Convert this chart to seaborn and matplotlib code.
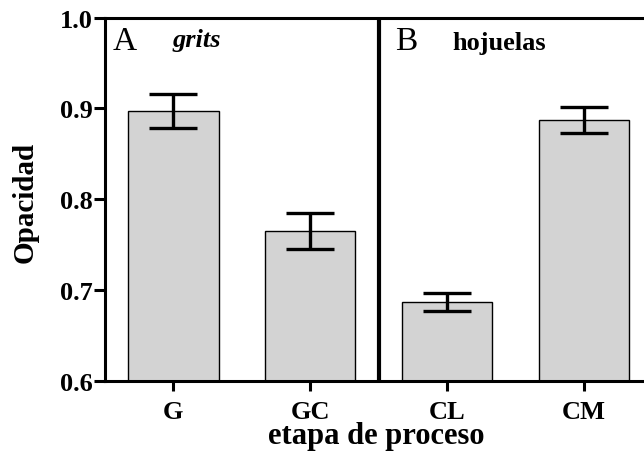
import matplotlib
matplotlib.use("Agg")
import matplotlib.pyplot as plt
import seaborn as sns
import pandas as pd

categories = ["G", "GC", "CL", "CM"]
means = [0.897, 0.765, 0.687, 0.887]
errors = [0.019, 0.020, 0.010, 0.0145]
yticks = [0.6, 0.7, 0.8, 0.9, 1.0]
ytick_labels = ["0.6", "0.7", "0.8", "0.9", "1.0"]

sns.set_style("white")
plt.rcParams["font.family"] = ["Liberation Serif", "DejaVu Serif"]
plt.rcParams.update({
    "text.color": "black",
    "axes.labelcolor": "black",
    "xtick.color": "black",
    "ytick.color": "black",
})

df = pd.DataFrame({"etapa": categories, "opacidad": means})

fig = plt.figure(figsize=(6.44, 4.52), dpi=100)
ax = fig.add_axes([0.163, 0.155, 0.837, 0.804])

sns.barplot(data=df, x="etapa", y="opacidad", order=categories,
            color="#d3d3d3", edgecolor="black", linewidth=1.0,
            width=0.66, errorbar=None, saturation=1, ax=ax)
ax.errorbar(range(len(categories)), means, yerr=errors, fmt="none",
            ecolor="black", elinewidth=2.4, capsize=17.5, capthick=2.4,
            zorder=3)

# divider between the two panels
ax.axvline(1.5, color="black", lw=3.0, zorder=4)

ax.set_ylim(0.6, 1.0)
ax.set_xlim(-0.5, 3.44)
ax.set_yticks(yticks)
ax.set_yticklabels(ytick_labels)

for side in ["left", "top", "bottom"]:
    ax.spines[side].set_visible(True)
    ax.spines[side].set_linewidth(2.2)
    ax.spines[side].set_color("black")
ax.spines["right"].set_visible(False)

ax.tick_params(axis="y", direction="out", length=8, width=2.2,
               color="black", labelcolor="black", labelsize=19, pad=1,
               left=True)
ax.tick_params(axis="x", direction="out", length=7, width=2.2,
               color="black", labelcolor="black", labelsize=19, pad=7,
               bottom=True)
for lbl in ax.get_xticklabels() + ax.get_yticklabels():
    lbl.set_fontweight("bold")

ax.set_xlabel("etapa de proceso", fontsize=22, fontweight="bold",
              color="black")
ax.xaxis.label.set_va("baseline")
ax.xaxis.set_label_coords(0.503, -0.171)
ax.set_ylabel("Opacidad", fontsize=21, fontweight="bold", color="black")
ax.yaxis.label.set_va("center")
ax.yaxis.set_label_coords(-0.148, 0.495)

ax.text(-0.445, 0.9654, "A", fontsize=24, va="baseline", ha="left",
        color="black")
ax.text(-0.01, 0.9687, "grits", fontsize=19, fontweight="bold",
        fontstyle="italic", va="baseline", ha="left", color="black")
ax.text(1.62, 0.9654, "B", fontsize=24, va="baseline", ha="left",
        color="black")
ax.text(2.04, 0.965, "hojuelas", fontsize=19, fontweight="bold",
        va="baseline", ha="left", color="black")

fig.savefig("out.png", dpi=100)
